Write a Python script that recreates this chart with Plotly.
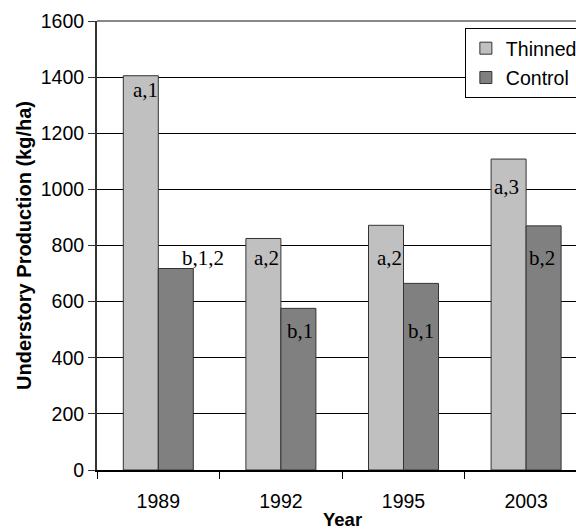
import plotly.graph_objects as go

years = ["1989", "1992", "1995", "2003"]
thinned = [1405, 825, 872, 1108]
control = [718, 576, 665, 870]

thinned_labels = ["a,1", "a,2", "a,2", "a,3"]
control_labels = ["b,1,2", "b,1", "b,1", "b,2"]
# label anchor heights (data units)
thinned_label_y = [1354, 755, 755, 1008]
control_label_y = [757, 497, 497, 757]
control_label_dx = [27, 2, 0, -2]
thinned_label_dx = [5, 3, 3, -2]

SANS = "Liberation Sans, Arial, sans-serif"
SERIF = "Liberation Serif, Times New Roman, serif"

fig = go.Figure()
fig.add_trace(go.Bar(x=years, y=thinned, name="Thinned",
                     marker=dict(color="#C0C0C0", line=dict(color="#333333", width=1)),
                     legendgroup="t"))
fig.add_trace(go.Bar(x=years, y=control, name="Control",
                     marker=dict(color="#808080", line=dict(color="#333333", width=1)),
                     legendgroup="c"))

annotations = []
for i, yr in enumerate(years):
    annotations.append(dict(x=i, y=thinned_label_y[i], xref="x", yref="y",
                            text=thinned_labels[i], showarrow=False,
                            xshift=-17.5 + thinned_label_dx[i],
                            font=dict(family=SERIF, size=21, color="black")))
    annotations.append(dict(x=i, y=control_label_y[i], xref="x", yref="y",
                            text=control_labels[i], showarrow=False,
                            xshift=17.5 + control_label_dx[i],
                            font=dict(family=SERIF, size=21, color="black")))
annotations.append(dict(x=1.5, y=-0.11, xref="x", yref="paper", text="<b>Year</b>",
                        showarrow=False, yanchor="middle",
                        font=dict(family=SANS, size=18.5, color="black")))

fig.update_layout(
    width=576, height=531,
    margin=dict(l=97, r=0, t=21, b=61, autoexpand=False),
    paper_bgcolor="white", plot_bgcolor="white",
    barmode="group", bargap=0.429, bargroupgap=0,
    font=dict(family=SANS, size=19, color="black"),
    legend=dict(x=0.768, y=0.9844, xanchor="left", yanchor="top",
                bordercolor="black", borderwidth=1, bgcolor="white",
                font=dict(family=SANS, size=19.5, color="black"),
                traceorder="grouped", tracegroupgap=1),
    annotations=annotations,
    shapes=[dict(type="line", xref="paper", yref="paper", x0=0, x1=1, y0=1, y1=1,
                 line=dict(color="#888888", width=2))],
)
fig.update_xaxes(type="category", range=[-0.5, 3.407], showline=True, linecolor="black",
                 linewidth=1.5, ticks="outside", ticklen=7, tickcolor="black",
                 tickson="boundaries", showgrid=False, ticklabelstandoff=13,
                 tickfont=dict(family=SANS, size=19.5, color="black"))
fig.update_yaxes(range=[0, 1600], dtick=200, showline=True, linecolor="#333333",
                 linewidth=2, ticks="outside", ticklen=7, tickcolor="#333333",
                 showgrid=True, gridcolor="black", gridwidth=1, zeroline=False,
                 tickfont=dict(family=SANS, size=19.5, color="black"),
                 title=dict(text="<b>Understory Production (kg/ha)</b>",
                            font=dict(family=SANS, size=20, color="black"), standoff=4))

fig.write_html("out.html", config={"displayModeBar": False},
               post_script="document.body.style.margin='0';")
